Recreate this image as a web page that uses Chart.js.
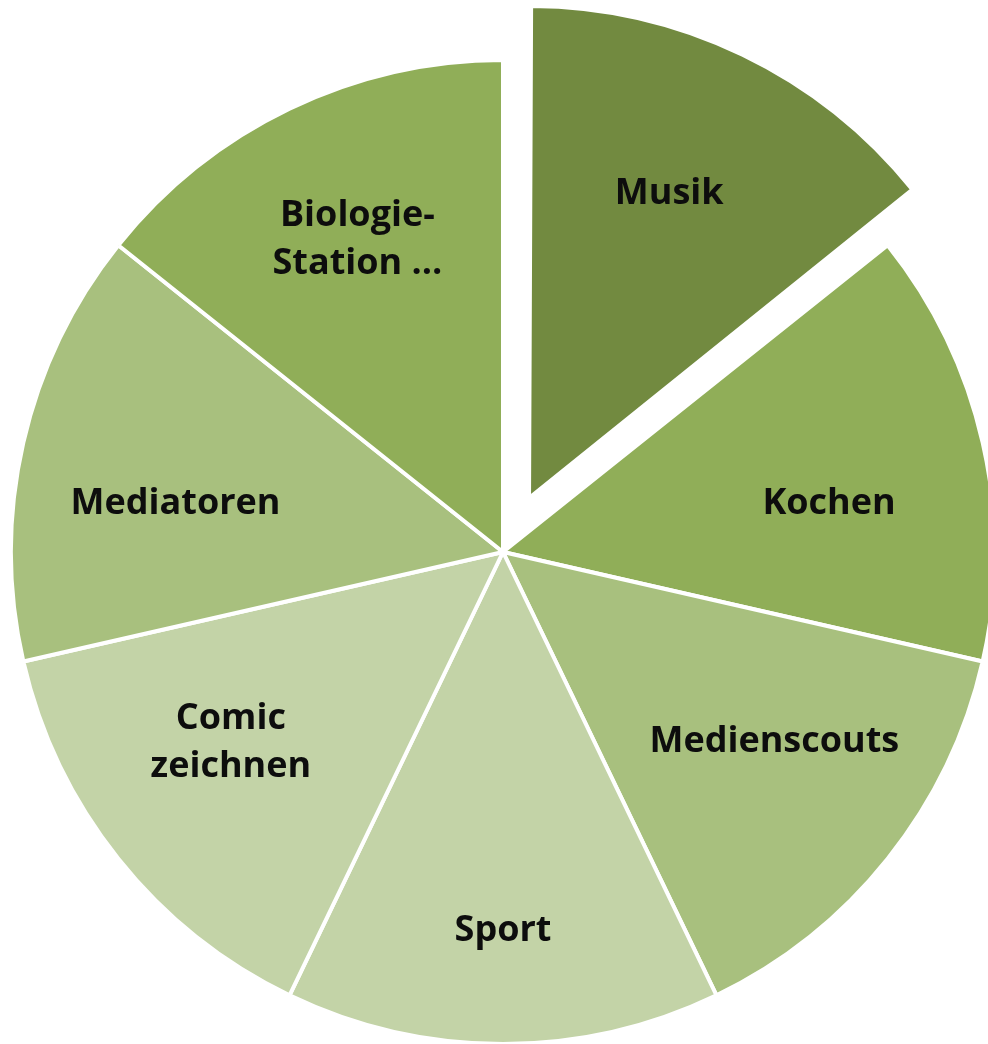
<!DOCTYPE html>
<html>
<head>
<meta charset="utf-8">
<script src="https://cdn.jsdelivr.net/npm/chart.js@4/dist/chart.umd.min.js"></script>
<style>
    html, body { margin: 0; padding: 0; background: #ffffff; }
    #wrap { position: relative; width: 988px; height: 1044px; }
</style>
</head>
<body>
<div id="wrap"><canvas id="pieChart"></canvas></div>
<script>
/* Chart data */
var categories = ['Musik', 'Kochen', 'Medienscouts', 'Sport', 'Comic zeichnen', 'Mediatoren', 'Biologie-Station …'];
var labelLines = [['Musik'], ['Kochen'], ['Medienscouts'], ['Sport'], ['Comic', 'zeichnen'], ['Mediatoren'], ['Biologie-', 'Station …']];
var values = [1, 1, 1, 1, 1, 1, 1];
var explode = [240, 0, 0, 0, 0, 0, 0];

/* Styling */
var sliceColors = ['#728A40', '#90AE58', '#A8C07E', '#C3D3A7', '#C3D3A7', '#A8C07E', '#90AE58'];
// label placement: fraction of radius, angle shift in degrees
var labelPlace = [
    [0.70, -1], [0.67, 4.4], [0.673, -3.6], [0.77, 0],
    [0.675, 3.6], [0.673, -4.4], [0.70, 0.7]
];

/* Keep exploded slice at the same radius as the others */
var explodeFix = {
    id: 'explodeFix',
    afterDatasetsUpdate: function(chart) {
        var meta = chart.getDatasetMeta(0);
        meta.data.forEach(function(arc) {
            var off = arc.options.offset || 0;
            if (!off) return;
            var circ = arc.endAngle - arc.startAngle;
            var fix = 1 - Math.sin(Math.min(Math.PI, circ));
            arc.outerRadius -= (off / 4) * fix;
        });
    }
};

/* Slice labels */
var sliceLabels = {
    id: 'sliceLabels',
    afterDatasetsDraw: function(chart) {
        var ctx = chart.ctx;
        var meta = chart.getDatasetMeta(0);
        ctx.save();
        ctx.font = 'bold 36px "Open Sans"';
        ctx.fillStyle = '#0d0d0d';
        ctx.textAlign = 'center';
        ctx.textBaseline = 'middle';
        meta.data.forEach(function(arc, i) {
            var mid = (arc.startAngle + arc.endAngle) / 2;
            var shift = (arc.options.offset || 0) / 4;
            var cx = arc.x + Math.cos(mid) * shift;
            var cy = arc.y + Math.sin(mid) * shift;
            var place = labelPlace[i];
            var a = mid + place[1] * Math.PI / 180;
            var r = arc.outerRadius * place[0];
            var x = cx + Math.cos(a) * r;
            var y = cy + Math.sin(a) * r;
            var lines = labelLines[i];
            var lh = 48;
            lines.forEach(function(line, j) {
                ctx.fillText(line, x, y + (j - (lines.length - 1) / 2) * lh);
            });
        });
        ctx.restore();
    }
};

var ctx = document.getElementById('pieChart').getContext('2d');
new Chart(ctx, {
    type: 'pie',
    data: {
        labels: categories,
        datasets: [{
            data: values,
            backgroundColor: sliceColors,
            borderColor: '#ffffff',
            borderWidth: 4,
            offset: explode,
            clip: false
        }]
    },
    options: {
        responsive: true,
        maintainAspectRatio: false,
        animation: false,
        radius: 492,
        layout: {
            padding: { left: 18, right: 0, top: 60, bottom: 0 }
        },
        plugins: {
            legend: { display: false },
            tooltip: { enabled: false }
        }
    },
    plugins: [explodeFix, sliceLabels]
});
</script>
</body>
</html>
